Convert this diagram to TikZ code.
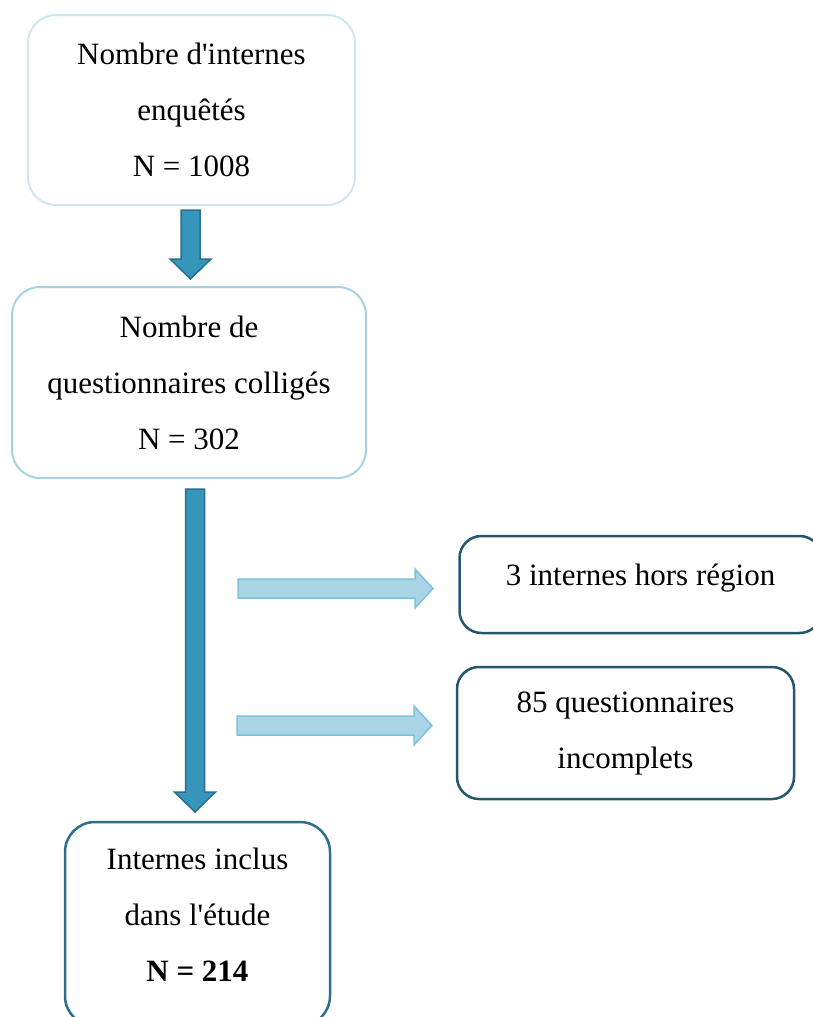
\documentclass[tikz,border=0pt]{standalone}
\usepackage{fontspec}
\setmainfont{Liberation Serif}
\usetikzlibrary{positioning}
\definecolor{boxpale}{HTML}{CFE6F0}
\definecolor{boxlight}{HTML}{A6D2E4}
\definecolor{boxdark}{HTML}{25566D}
\definecolor{boxmid}{HTML}{2C6E8C}
\definecolor{arrowfill}{HTML}{3595BB}
\definecolor{arrowline}{HTML}{2B6D8C}
\definecolor{sidefill}{HTML}{A9D5E6}
\definecolor{sideline}{HTML}{7EC1DB}
% block arrows: centre, start, tip
\newcommand{\downblock}[3]{%
\draw[mainarrow] ({#1-9.5},#2) -- ({#1+9.5},#2) -- ({#1+9.5},{#3-20}) -- ({#1+20.5},{#3-20})
  -- (#1,#3) -- ({#1-20.5},{#3-20}) -- ({#1-9.5},{#3-20}) -- cycle;}
\newcommand{\rightblock}[3]{%
\draw[sidearrow] (#2,{#1-9.5}) -- ({#3-18},{#1-9.5}) -- ({#3-18},{#1-19.5}) -- (#3,#1)
  -- ({#3-18},{#1+19.5}) -- ({#3-18},{#1+9.5}) -- (#2,{#1+9.5}) -- cycle;}
\begin{document}
\begin{tikzpicture}[x=1pt,y=-1pt,
every node/.style={align=center,font=\fontsize{31}{56}\selectfont},
flowbox/.style={draw,rounded corners=28pt,fill=white},
lightbox/.style={flowbox,draw=boxpale,line width=2pt},
bluebox/.style={flowbox,draw=boxlight,line width=2pt},
darkbox/.style={flowbox,draw=boxdark,line width=2.5pt,rounded corners=22pt},
mainarrow/.style={fill=arrowfill,draw=arrowline,line width=1.5pt},
sidearrow/.style={fill=sidefill,draw=sideline,line width=1.5pt}]
\useasboundingbox (0,0) rectangle (812,1017);
\node[lightbox,minimum width=327pt,minimum height=190pt] (enq) at (191.5,110)
  {Nombre d\textquotesingle internes\\enquêtés\\N = 1008};
\node[bluebox,minimum width=354pt,minimum height=191pt] (coll) at (189,382.5)
  {Nombre de\\questionnaires colligés\\N = 302};
\node[darkbox,minimum width=362pt,minimum height=97pt,text depth=20pt] (hors) at (640.5,584.5)
  {3 internes hors région};
\node[darkbox,minimum width=337pt,minimum height=132pt] (incomp) at (625.5,733)
  {85 questionnaires\\incomplets};
\node[darkbox,draw=boxmid,rounded corners=30pt,minimum width=265pt,minimum height=204pt,text depth=19pt] (incl) at (197.5,924)
  {Internes inclus\\dans l\textquotesingle étude\\\textbf{N = 214}};
\downblock{190.5}{210}{279}
\downblock{195}{489}{812}
\rightblock{588.5}{238}{433}
\rightblock{725.5}{237}{432}
\end{tikzpicture}
\end{document}
